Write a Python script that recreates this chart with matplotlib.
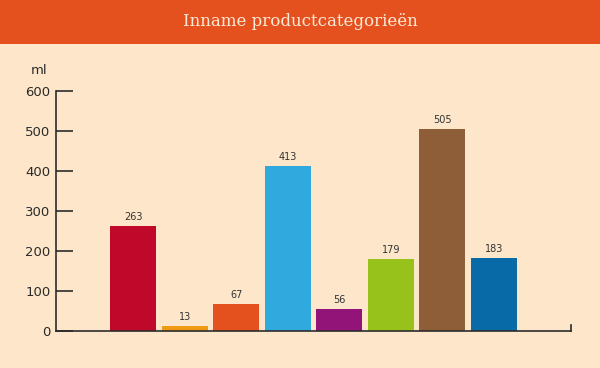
import numpy as np
import matplotlib.pyplot as plt
from matplotlib.patches import Rectangle

# data
values = [263, 13, 67, 413, 56, 179, 505, 183]
colors = ['#C0092A', '#EE9A12', '#E5501F', '#2FA9DE', '#921479', '#97C11B', '#8E5E38', '#086AA6']
yticks = [0, 100, 200, 300, 400, 500, 600]
title = "Inname productcategorieën"
unit = "ml"

bg = '#FDE6C9'
dark = '#2B2B2B'

fig = plt.figure(figsize=(6, 3.68), dpi=100, facecolor=bg)

# header band
fig.patches.append(Rectangle((0, 1 - 44 / 368), 1, 44 / 368, transform=fig.transFigure,
                             facecolor='#E5501F', edgecolor='none', zorder=0))
fig.text(0.5, 1 - 22 / 368, title, ha='center', va='center', color='#FDEBD8',
         fontsize=12, family='DejaVu Serif')

ax = fig.add_axes([56 / 600, 37 / 368, 515 / 600, 240 / 368])
ax.set_facecolor(bg)

x = np.arange(len(values))
ax.bar(x, values, width=0.9, color=colors, zorder=2)
for xi, v in zip(x, values):
    ax.text(xi, v + 10, str(v), ha='center', va='bottom', fontsize=7, color='#333333')

ax.set_xlim(-1.5, 8.5)
ax.set_ylim(0, 600)
ax.set_yticks(yticks)
ax.set_xticks([])
ax.tick_params(axis='y', direction='in', length=12, width=1.2, color=dark,
               labelsize=9.5, labelcolor=dark, pad=4)
for s in ['top', 'right']:
    ax.spines[s].set_visible(False)
for s in ['left', 'bottom']:
    ax.spines[s].set_color(dark)
    ax.spines[s].set_linewidth(1.2)
ax.axvline(8.5, ymin=0, ymax=0.025, color=dark, lw=1.2, clip_on=False)

fig.text(47 / 600, 1 - 70 / 368, unit, ha='right', va='center', fontsize=9.5, color=dark)

fig.savefig('out.png', dpi=100, facecolor=bg)
